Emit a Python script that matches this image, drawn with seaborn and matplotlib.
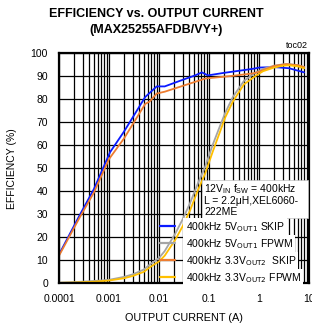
import numpy as np
import pandas as pd
import matplotlib
matplotlib.use("Agg")
import matplotlib.pyplot as plt
import seaborn as sns
from matplotlib.patches import Rectangle
from matplotlib.ticker import LogLocator, NullFormatter, FixedLocator

# --- data ---
x_5v_skip = [0.0001, 0.00025, 0.0005, 0.00105, 0.002, 0.0053, 0.009, 0.013, 0.03, 0.053, 0.072, 0.095, 0.2, 0.5, 0.83, 1.0, 2.0, 4.0, 8.0]
y_5v_skip = [12.5, 29.0, 41.0, 57.0, 66.0, 81.0, 85.6, 85.6, 88.5, 90.4, 91.7, 90.4, 91.5, 92.7, 93.4, 93.8, 94.0, 93.5, 91.7]

x_5v_fpwm = [0.0001, 0.0002, 0.0005, 0.001, 0.002, 0.003, 0.005, 0.0066, 0.01, 0.013, 0.021, 0.03, 0.042, 0.06, 0.083, 0.12, 0.17, 0.21, 0.3, 0.5, 0.83, 1.2, 2.0, 3.0, 4.0, 6.0, 8.0]
y_5v_fpwm = [0.3, 0.5, 1.0, 1.5, 2.8, 3.9, 6.0, 8.2, 11.0, 14.0, 21.5, 28.0, 35.0, 43.5, 50.5, 60.5, 69.0, 74.0, 81.0, 88.0, 91.5, 93.2, 94.6, 95.2, 95.3, 94.8, 94.0]

x_33v_skip = [0.0001, 0.00025, 0.0005, 0.001, 0.002, 0.0053, 0.0065, 0.009, 0.013, 0.053, 0.083, 0.1, 0.3, 0.83, 1.0, 2.0, 3.5, 6.0, 8.0]
y_33v_skip = [12.0, 28.0, 39.5, 54.0, 63.0, 78.0, 79.0, 82.5, 83.3, 87.6, 89.0, 89.2, 90.2, 91.4, 92.0, 94.5, 95.3, 94.8, 94.0]

x_33v_fpwm = [0.0001, 0.0002, 0.0005, 0.001, 0.002, 0.003, 0.005, 0.0066, 0.01, 0.013, 0.021, 0.03, 0.042, 0.06, 0.083, 0.12, 0.17, 0.21, 0.3, 0.5, 0.83, 1.2, 2.0, 3.0, 4.0, 6.0, 8.0]
y_33v_fpwm = [0.2, 0.35, 0.7, 1.2, 2.2, 3.2, 5.0, 7.0, 9.5, 12.0, 18.8, 25.0, 31.8, 40.5, 47.5, 57.5, 66.5, 72.0, 79.0, 86.5, 90.0, 92.2, 93.8, 94.6, 94.8, 94.3, 93.5]

labels = [r"400kHz 5V$_{\mathrm{OUT1}}$ SKIP",
          r"400kHz 5V$_{\mathrm{OUT1}}$ FPWM",
          r"400kHz 3.3V$_{\mathrm{OUT2}}$  SKIP",
          r"400kHz 3.3V$_{\mathrm{OUT2}}$ FPWM"]
colors = ["#0a1aff", "#a5a5a5", "#ed7d31", "#ffc000"]

xticks = [0.0001, 0.001, 0.01, 0.1, 1, 10]
xtick_labels = ["0.0001", "0.001", "0.01", "0.1", "1", "10"]
yticks = list(range(0, 101, 10))

frames = []
for lab, xs, ys in zip(labels,
                       [x_5v_skip, x_5v_fpwm, x_33v_skip, x_33v_fpwm],
                       [y_5v_skip, y_5v_fpwm, y_33v_skip, y_33v_fpwm]):
    frames.append(pd.DataFrame({"current": xs, "eff": ys, "series": lab}))
df = pd.concat(frames, ignore_index=True)

sns.set_style("white")
plt.rcParams["font.family"] = ["Liberation Sans", "DejaVu Sans"]
plt.rcParams["mathtext.default"] = "regular"
plt.rcParams["text.color"] = "black"
plt.rcParams["axes.labelcolor"] = "black"

fig = plt.figure(figsize=(3.12, 3.28), dpi=100)
ax = fig.add_axes([59 / 312, 1 - 283.3 / 328, 250 / 312, 230 / 328])

sns.lineplot(data=df, x="current", y="eff", hue="series", hue_order=labels,
             palette=colors, estimator=None, sort=False, linewidth=1.3, ax=ax)

ax.set_xscale("log")
ax.set_xlim(0.0001, 10)
ax.set_ylim(0, 100)
ax.xaxis.set_major_locator(FixedLocator(xticks))
ax.set_xticklabels(xtick_labels)
ax.xaxis.set_minor_locator(LogLocator(base=10, subs=np.arange(2, 10)))
ax.xaxis.set_minor_formatter(NullFormatter())
ax.set_yticks(yticks)
ax.tick_params(axis="both", which="both", length=0, labelsize=7.5, pad=8, colors="black")
ax.grid(True, which="major", color="black", linewidth=0.9)
ax.grid(True, which="minor", axis="x", color="black", linewidth=0.9)
ax.set_axisbelow(True)
for sp in ax.spines.values():
    sp.set_color("black")
    sp.set_linewidth(1.6)

ax.set_xlabel("OUTPUT CURRENT (A)", fontsize=7.8, labelpad=6)
ax.set_ylabel("EFFICIENCY (%)", fontsize=7.5, labelpad=10)

fig.text(0.5, 1 - 14 / 328, "EFFICIENCY vs. OUTPUT CURRENT", ha="center", va="center",
         fontsize=9, fontweight="bold")
fig.text(0.5, 1 - 30 / 328, "(MAX25255AFDB/VY+)", ha="center", va="center",
         fontsize=9, fontweight="bold")
fig.text(308 / 312, 1 - 45 / 328, "toc02", ha="right", va="center", fontsize=6.5)

# conditions box
ax.add_patch(Rectangle((0.572, 0.284), 0.424, 0.165, transform=ax.transAxes,
                       facecolor="white", edgecolor="#c0c0c0", linewidth=0.5, zorder=3))
ax.text(0.58, 0.44, "12V$_{IN}$ f$_{SW}$ = 400kHz\nL = 2.2\u03bcH,XEL6060-\n222ME",
        transform=ax.transAxes, ha="left", va="top", fontsize=7.5, linespacing=1.05, zorder=4)

sns.move_legend(ax, loc="upper left", bbox_to_anchor=(160 / 312, 1 - 220 / 328),
                bbox_transform=fig.transFigure, frameon=False, title=None,
                fontsize=7.5, borderpad=0, borderaxespad=0, handlelength=1.45,
                handletextpad=1.0, labelspacing=0.3)
leg = ax.get_legend()
for t in leg.get_texts():
    t.set_bbox(dict(facecolor="white", edgecolor="none", pad=1.5))
for h in leg.legend_handles:
    h.set_linewidth(1.6)

fig.savefig("out.png", dpi=100)
